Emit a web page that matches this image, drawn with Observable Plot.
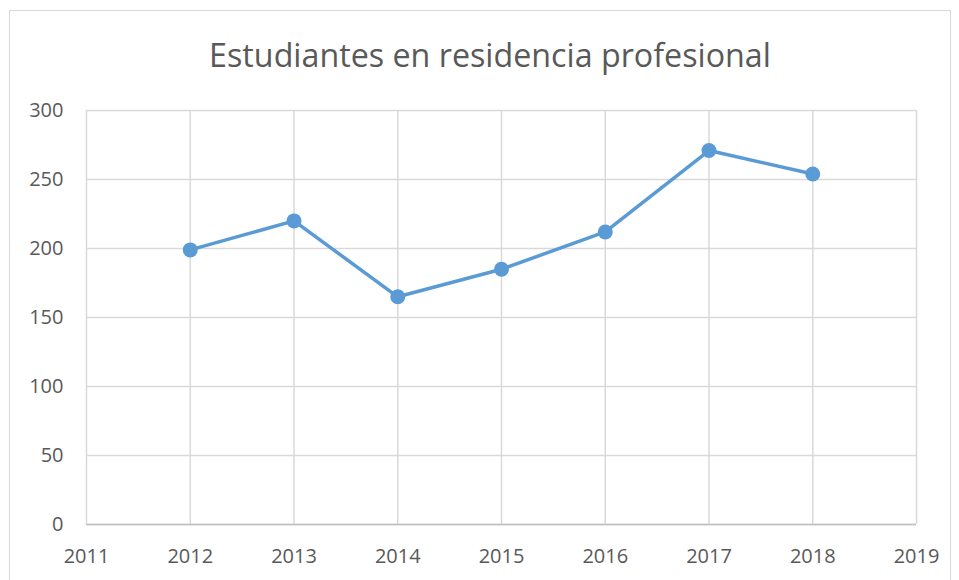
<!DOCTYPE html>
<html>
<head>
<meta charset="utf-8">
<script src="https://cdn.jsdelivr.net/npm/d3@7"></script>
<script src="https://cdn.jsdelivr.net/npm/@observablehq/plot@0.6"></script>
<style>
  body { margin: 0; background: #fff; }
  #wrap { position: relative; width: 959px; height: 580px; overflow: hidden; background: #fff; }
  #frame { position: absolute; left: 9px; top: 10px; width: 940px; height: 620px; border: 1.5px solid #d9d9d9; }
  #title { position: absolute; left: 0; width: 980px; text-align: center; font-family: "Open Sans", sans-serif; color: #595959; white-space: nowrap; }
  #chart { position: absolute; left: 0; top: 0; }
</style>
</head>
<body>
<div id="wrap">
  <div id="frame"></div>
  <div id="chart"></div>
  <div id="title">Estudiantes en residencia profesional</div>
</div>
<script>
const titleText = "Estudiantes en residencia profesional";
const years = [2012, 2013, 2014, 2015, 2016, 2017, 2018];
const students = [199, 220, 165, 185, 212, 271, 254];
const xTicks = [2011, 2012, 2013, 2014, 2015, 2016, 2017, 2018, 2019];
const yTicks = [0, 50, 100, 150, 200, 250, 300];

const data = years.map((y, i) => ({year: y, value: students[i]}));

// size the title to the reference width
const title = document.getElementById("title");
const ctx = document.createElement("canvas").getContext("2d");
ctx.font = '100px "Open Sans"';
const w100 = ctx.measureText(titleText).width;
const fs = 100 * 562 / w100;
title.style.fontSize = fs + "px";
title.style.lineHeight = fs + "px";
title.style.top = (68 - 0.888 * fs) + "px";

const chart = Plot.plot({
  width: 959,
  height: 580,
  marginLeft: 86,
  marginRight: 43,
  marginTop: 110,
  marginBottom: 56,
  style: {fontFamily: "Open Sans", fontSize: "20px", color: "#595959", background: "transparent"},
  x: {domain: [2011, 2019]},
  y: {domain: [0, 300]},
  marks: [
    Plot.gridY(yTicks, {stroke: "#d9d9d9", strokeOpacity: 1, strokeWidth: 1.5}),
    Plot.gridX(xTicks, {stroke: "#d9d9d9", strokeOpacity: 1, strokeWidth: 1.5}),
    Plot.ruleY([0], {stroke: "#bfbfbf", strokeWidth: 1.5}),
    Plot.axisY(yTicks, {tickSize: 0, tickPadding: 23, label: null}),
    Plot.axisX(xTicks, {tickSize: 0, tickPadding: 24, label: null, tickFormat: d => String(d)}),
    Plot.line(data, {x: "year", y: "value", stroke: "#5b9bd5", strokeWidth: 3.5}),
    Plot.dot(data, {x: "year", y: "value", r: 7.5, fill: "#5b9bd5", stroke: "none"})
  ]
});
document.getElementById("chart").appendChild(chart);
</script>
</body>
</html>
